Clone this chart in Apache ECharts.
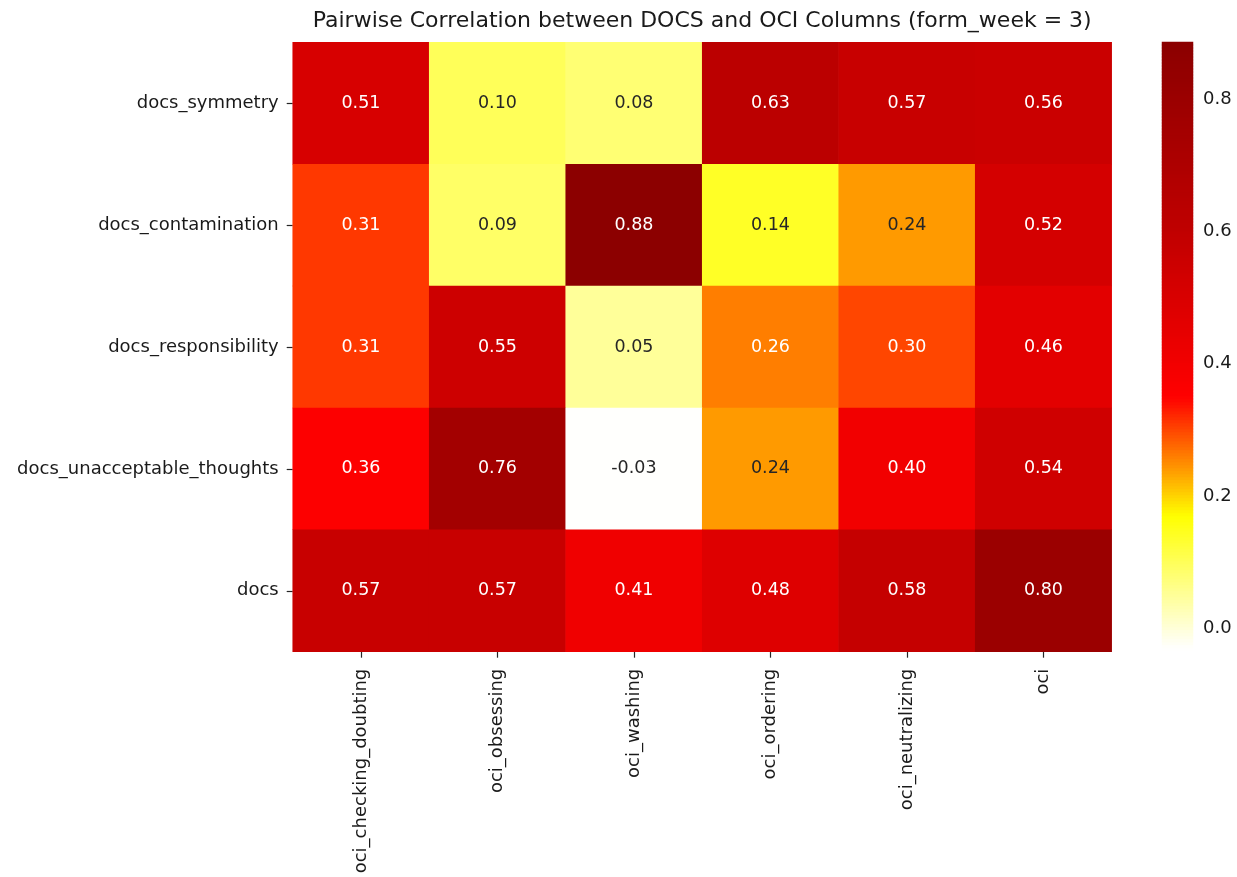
<!DOCTYPE html>
<html><head><meta charset="utf-8">
<script src="https://cdn.jsdelivr.net/npm/echarts@6/dist/echarts.min.js"></script>
<style>html,body{margin:0;padding:0;background:#fff}#c{width:1237px;height:877px}</style>
</head><body><div id="c"></div>
<script>
// ---- data ----
const rowLabels = ['docs_symmetry','docs_contamination','docs_responsibility','docs_unacceptable_thoughts','docs'];
const colLabels = ['oci_checking_doubting','oci_obsessing','oci_washing','oci_ordering','oci_neutralizing','oci'];
const docsSymmetry        = [0.51, 0.10, 0.08, 0.63, 0.57, 0.56];
const docsContamination   = [0.31, 0.09, 0.88, 0.14, 0.24, 0.52];
const docsResponsibility  = [0.31, 0.55, 0.05, 0.26, 0.30, 0.46];
const docsUnacceptable    = [0.36, 0.76, -0.03, 0.24, 0.40, 0.54];
const docsTotal           = [0.57, 0.57, 0.41, 0.48, 0.58, 0.80];
const colorbarTicks = [0.0, 0.2, 0.4, 0.6, 0.8];
const vmin = -0.034, vmax = 0.886;

// ---- colour map (white -> yellow -> orange -> red -> dark red) ----
const stops = [[-0.03,[255,255,255]],[0.17,[255,255,0]],[0.24,[255,154,0]],[0.35,[255,0,0]],[0.60,[192,0,0]],[0.886,[139,0,0]]];
function cmap(v){
  if (v<=stops[0][0]) return stops[0][1];
  for (let i=1;i<stops.length;i++){
    if (v<=stops[i][0]){
      const t=(v-stops[i-1][0])/(stops[i][0]-stops[i-1][0]);
      return stops[i-1][1].map((c,k)=>Math.round(c+(stops[i][1][k]-c)*t));
    }
  }
  return stops[stops.length-1][1];
}
const hex = c => '#'+c.map(x=>x.toString(16).padStart(2,'0')).join('');
const N=150, palette=[];
for (let i=0;i<=N;i++) palette.push(hex(cmap(vmin+(vmax-vmin)*i/N)));
function lum(c){
  const f=x=>{x/=255;return x<=0.03928?x/12.92:Math.pow((x+0.055)/1.055,2.4);};
  return 0.2126*f(c[0])+0.7152*f(c[1])+0.0722*f(c[2]);
}

const matrix=[docsSymmetry,docsContamination,docsResponsibility,docsUnacceptable,docsTotal];
const data=[];
matrix.forEach((row,r)=>row.forEach((v,c)=>{
  data.push({value:[c,r,v],label:{color: lum(cmap(v))>0.408 ? '#262626' : '#ffffff'}});
}));

// colour-bar strip: bins spanning the colour scale (3px each)
const NB=203, binIdx=[], binData=[];
for (let i=0;i<NB;i++){ binIdx.push(i); binData.push([0,i,vmin+(vmax-vmin)*(i+0.5)/NB]); }

const FONT='DejaVu Sans';
const G={left:292.7,top:42.3,width:819,height:609.4};
const CB={left:1162,top:42,width:31,height:609};

const chart=echarts.init(document.getElementById('c'),null,{renderer:'canvas'});
chart.setOption({
  animation:false,
  backgroundColor:'#fff',
  title:{text:'Pairwise Correlation between DOCS and OCI Columns (form_week = 3)',
    left:G.left+G.width/2, textAlign:'center', top:10, padding:0,
    textStyle:{fontFamily:FONT,fontSize:22,fontWeight:'normal',color:'#1a1a1a'}},
  grid:[
    {left:G.left,top:G.top,width:G.width,height:G.height,containLabel:false},
    {left:CB.left,top:CB.top,width:CB.width,height:CB.height,containLabel:false},
    {left:CB.left,top:CB.top,width:CB.width,height:CB.height,containLabel:false}
  ],
  xAxis:[
    {type:'category',gridIndex:0,data:colLabels,
      axisLine:{show:false},splitLine:{show:false},
      axisTick:{show:true,alignWithLabel:true,length:6,lineStyle:{color:'#262626',width:1.2}},
      axisLabel:{rotate:90,margin:17,fontFamily:FONT,fontSize:18,color:'#1a1a1a'}},
    {type:'category',gridIndex:1,data:[0],show:false},
    {type:'value',gridIndex:2,show:false,min:0,max:1}
  ],
  yAxis:[
    {type:'category',gridIndex:0,data:rowLabels,inverse:true,
      axisLine:{show:false},splitLine:{show:false},
      axisTick:{show:true,alignWithLabel:true,length:6,lineStyle:{color:'#262626',width:1.2}},
      axisLabel:{margin:14,fontFamily:FONT,fontSize:18,color:'#1a1a1a'}},
    {type:'category',gridIndex:1,data:binIdx,show:false},
    {type:'value',gridIndex:2,position:'right',min:vmin,max:vmax,
      axisLine:{show:false},splitLine:{show:false},
      axisTick:{show:true,length:6,customValues:colorbarTicks,lineStyle:{color:'#262626',width:1.2}},
      axisLabel:{show:true,margin:10,customValues:colorbarTicks,formatter:v=>v.toFixed(1),
        fontFamily:FONT,fontSize:18,color:'#1a1a1a'}}
  ],
  visualMap:{type:'continuous',seriesIndex:[0,1],min:vmin,max:vmax,show:false,
    inRange:{color:palette}},
  series:[
    {type:'heatmap',xAxisIndex:0,yAxisIndex:0,data:data,
      itemStyle:{borderWidth:0},
      label:{show:true,formatter:p=>p.value[2].toFixed(2),fontFamily:FONT,fontSize:17.5},
      emphasis:{disabled:true}},
    {type:'heatmap',xAxisIndex:1,yAxisIndex:1,data:binData,silent:true,
      itemStyle:{borderWidth:0},label:{show:false},emphasis:{disabled:true}}
  ]
});
</script></body></html>
